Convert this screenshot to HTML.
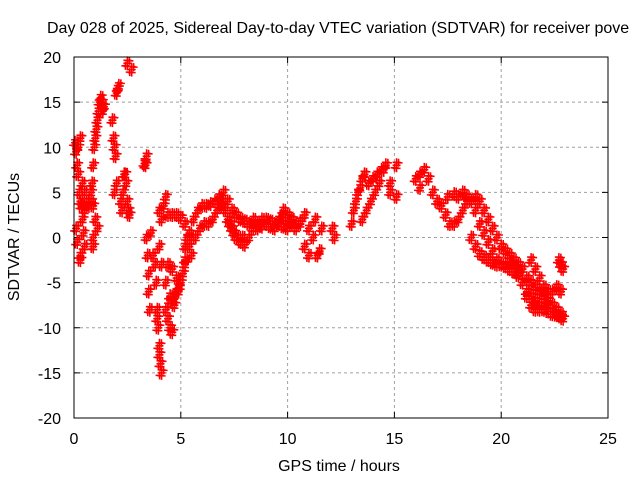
<!DOCTYPE html>
<html><head><meta charset="utf-8"><style>
body{margin:0;background:#fff}
svg text{font-family:"Liberation Sans",sans-serif;font-size:16px;fill:#000}
</style></head><body>
<svg id="chart" width="640" height="480">
<text x="47" y="33">Day 028 of 2025, Sidereal Day-to-day VTEC variation (SDTVAR) for receiver pove</text>
<text x="339" y="471" text-anchor="middle">GPS time / hours</text>
<text x="19" y="237" text-anchor="middle" transform="rotate(-90 19 237)">SDTVAR / TECUs</text>
<g id="grid"></g><g id="ticks"></g><g id="marks"></g>
<rect x="74" y="57" width="534" height="361" fill="none" stroke="#000" stroke-width="1"/>
</svg>
<script>
const xTicks=[0,5,10,15,20,25];
const yTicks=[-20,-15,-10,-5,0,5,10,15,20];
const earlyHours=[0.05,0.1,0.15,0.2,0.25,0.3,0.35,0.4,0.45,0.5,0.3,0.2,0.5,0.6,0.7,0.8,0.9,0.4,0.5,0.1,0.15,0.3,0.3,0.8,0.85,0.9,0.95,1.0,1.05,1.1,1.15,1.2,1.25,1.3,1.35,1.4,0.9,0.9,1.0,1.1,1.8,1.85,1.9,1.95,2.0,2.05,2.1,1.9,2.0,2.2,2.25,2.3,2.35,2.4,2.45,2.5,2.55,2.6,2.5,2.7,3.3,3.4,3.35];
const earlyVals=[10.5,9.5,8,7,5,4,3.5,2,0.5,-1,11,10,3,4,3.5,4,3.5,6,5,1,-0.5,-2,-2.5,5,6,8,10,11,12,13,14,15,15.5,15,14,14.5,0,-1,2,1,13,11,10,9,16,16.5,16.8,5,6,4,3,5,7,7,6,4,3,2.5,19.3,18.6,8.2,9,8];
const dipHours=[3.4,3.45,3.5,3.5,3.55,3.6,3.7,3.8,3.85,3.9,3.95,4.0,4.05,4.1,4.0,3.9,4.0,4.1,4.2,4.3,4.0,4.1,4.3,4.3,4.4,4.5,4.6,4.5,4.6,4.7,4.8,4.9,5.0,5.1,5.2,5.3,4.4,4.6,4.8,5.0,5.2,4.4,4.6,4.8,5.0,5.2,5.3,5.4,5.5,4.5,4.7,4.9];
const dipVals=[0,-2,-4,-6,-8,0.5,-2,-3,-5,-8,-10,-12,-14,-15,-13,-9,3,2,3.5,4.5,-1,-3,-5,-8,-9,-10,-10.5,-7,-7,-6.5,-6,-5.5,-5,-4,-2.5,-1,-3,-3.5,-4.5,-5,-3,2.5,2.5,2.5,2.2,1.5,0,-1,0,-6.5,-7.5,-6];
const midHours=[5.2,5.4,5.6,5.8,6.0,6.2,6.4,6.6,6.8,7.0,7.2,7.4,7.6,7.8,8.0,8.2,5.5,5.7,5.9,6.1,6.3,6.5,6.7,6.9,7.0,7.1,7.3,7.5,7.7,7.9,7.2,7.4,7.6,7.8,8.0,8.2,8.4,8.4,8.6,8.8,9.0,9.2,9.4,9.6,9.8,10.0,10.2,10.4,10.6,10.8,8.6,8.8,9.0,9.2,9.4,9.6,9.8,10.0,10.2,10.4,9.8,10.0,10.2,11.0,11.2,11.0,11.4,11.5,11.6,12.1,12.2,11.3,10.6,10.8];
const midVals=[-1,0.5,2,3,3.5,3.5,3.7,4,4.5,5,4,3,2.5,2,1.8,1.5,-2,0,1,1.5,1.5,2,3,3.5,4,3,1.5,0.5,0,0,2,1,0,-0.5,-0.8,0,1,2,1.5,2,2,1.8,1.5,2,2.5,2.2,2,1.5,1.8,2.5,1,1.2,1.5,1.2,1,1.5,1.2,1,1.5,1,3,2.5,2,1,0,-2,-2,-1.5,1,1,0,2,1.5,-1];
const lateHours=[13.0,13.1,13.2,13.3,13.4,13.5,13.6,13.5,13.7,13.9,14.1,14.3,14.5,14.6,13.8,14.0,14.2,14.4,15.1,15.1,14.8,14.8,
16.2,16.4,16.6,16.8,17.0,17.2,17.4,17.6,17.8,18.0,18.2,18.4,18.6,18.8,19.0,19.2,19.4,19.6,19.8,20.0,20.2,20.4,20.6,20.8,21.0,21.2,21.4,21.6,21.8,22.0,22.2,22.4,22.6,22.8,
17.5,17.8,18.0,18.2,18.4,18.6,18.8,19.0,19.2,19.4,19.6,19.8,20.0,20.2,20.4,20.6,20.8,21.0,21.2,21.4,21.6,21.8,22.0,22.2,22.4,22.6,22.8,
18.6,18.8,19.0,19.2,19.4,19.6,19.8,20.0,20.2,20.4,20.6,20.8,21.0,21.2,21.4,21.6,21.8,22.0,22.2,22.4,22.6,22.8,22.9,
21.4,21.6,21.8,22.0,22.2,22.7,22.8,22.9,16.0,16.2];
const lateVals=[1.5,3,4,5,5.5,6.5,7,2,3,4,5,6,7.5,8,6,6.5,7,7.5,8,4.5,6,5,
7,7.5,6.5,5,4,3.5,2.5,1.5,1.5,2,3,4,4,3,1.5,0.5,-0.5,-1.5,-2.5,-3,-3,-3,-3.5,-4,-5,-6.5,-7.5,-8,-8,-7.5,-7,-7.5,-8,-8.5,
4.5,4.8,4.5,5,4.5,4,4.5,4,3,2,1,0,-1,-1.5,-2,-2.5,-3,-3.5,-4.5,-5,-5.5,-6,-6.5,-7,-6,-5.5,-6,
0,-1,-1.8,-2.2,-2.5,-2.8,-3,-3,-3.2,-3.5,-3.8,-4.2,-5,-6,-6.5,-7,-7.5,-8,-8.2,-8.5,-8.6,-8.8,-9,
-2.5,-3.5,-4.5,-5.5,-6,-2.5,-3,-3.5,6.5,5.5];
const X0=74,X1=608,Y0=418,Y1=57;
function xs(h){return X0+(h-0)/25*(X1-X0);}
function ys(v){return Y0-(v+20)/40*(Y0-Y1);}
const NS='http://www.w3.org/2000/svg';
const grid=document.getElementById('grid'),ticks=document.getElementById('ticks'),marks=document.getElementById('marks');
xTicks.forEach(t=>{
 const x=xs(t);
 if(t>0&&t<25){const l=document.createElementNS(NS,'line');l.setAttribute('x1',x);l.setAttribute('x2',x);l.setAttribute('y1',Y1);l.setAttribute('y2',Y0);l.setAttribute('stroke','#a0a0a0');l.setAttribute('stroke-dasharray','3,3');
 
 
 grid.appendChild(l);}
 const tk=document.createElementNS(NS,'path');tk.setAttribute('d',`M${x},${Y0}v-6M${x},${Y1}v6`);tk.setAttribute('stroke','#000');
 
 
 ticks.appendChild(tk);
 const tx=document.createElementNS(NS,'text');tx.setAttribute('x',x);tx.setAttribute('y',444);tx.setAttribute('text-anchor','middle');tx.textContent=t;
 
 
 ticks.appendChild(tx);
});
yTicks.forEach(t=>{
 const y=ys(t);
 if(t>-20&&t<20){const l=document.createElementNS(NS,'line');l.setAttribute('x1',X0);l.setAttribute('x2',X1);l.setAttribute('y1',y);l.setAttribute('y2',y);l.setAttribute('stroke','#a0a0a0');l.setAttribute('stroke-dasharray','3,3');
 
 
 grid.appendChild(l);}
 const tk=document.createElementNS(NS,'path');tk.setAttribute('d',`M${X0},${y}h6M${X1},${y}h-6`);tk.setAttribute('stroke','#000');
 
 
 ticks.appendChild(tk);
 const tx=document.createElementNS(NS,'text');tx.setAttribute('x',61);tx.setAttribute('y',y+6);tx.setAttribute('text-anchor','end');tx.textContent=t;
 
 
 ticks.appendChild(tx);
});
const offs=[[0,0],[2,-2.5],[-2,2.5],[0,3],[0,-3]];
function plot(hs,vs){
 let d='';
 for(let i=0;i<hs.length;i++){const x=xs(hs[i]),y=ys(vs[i]);
  for(const o of offs){d+=`M${x+o[0]-4},${y+o[1]}h8M${x+o[0]},${y+o[1]-4}v8`;}}
 const p=document.createElementNS(NS,'path');p.setAttribute('d',d);p.setAttribute('stroke','#ff0000');p.setAttribute('stroke-width','1.6');p.setAttribute('fill','none');
 
 
 marks.appendChild(p);
}
plot(earlyHours,earlyVals);plot(dipHours,dipVals);plot(midHours,midVals);plot(lateHours,lateVals);
</script>
</body></html>
